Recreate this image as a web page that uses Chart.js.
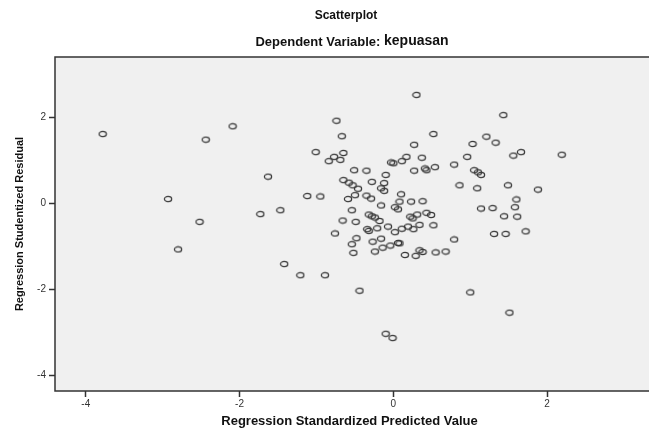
<!DOCTYPE html>
<html>
<head>
<meta charset="utf-8">
<script src="https://cdn.jsdelivr.net/npm/chart.js@4.4.1/dist/chart.umd.min.js"></script>
<style>
    html, body { margin: 0; padding: 0; background: #ffffff; overflow: hidden; }
    #wrap { width: 649px; height: 430px; }
</style>
</head>
<body>
<div id="wrap"><canvas id="scatter" width="649" height="430"></canvas></div>
<script>
const titleText = 'Scatterplot';
const subtitleLead = 'Dependent Variable: ';
const subtitleVar = 'kepuasan';
const xTitle = 'Regression Standardized Predicted Value';
const yTitle = 'Regression Studentized Residual';

const xTicks = [-4, -2, 0, 2];
const yTicks = [-4, -2, 0, 2];

// standardized predicted value (x) and studentized residual (y)
const predicted = [
    -3.78, -2.09, -2.44, -1.63, -2.93, -2.52, -2.80, -1.73, -1.47, -1.12,
    -0.95, -1.01, -0.84, -0.77, -0.74, -0.76, -1.42, -1.21, -0.89, 0.30,
    1.43, -0.67, 0.52, 0.27, 1.03, 1.21, 1.33, 1.56, -0.69, -0.65,
    -0.03, 0.00, 0.11, 0.17, 0.37, 0.27, 0.41, 0.43, 0.54, 0.79,
    0.96, 1.05, 1.10, 1.14, 0.86, 1.09, 1.49, -0.51, -0.35, -0.10,
    -0.65, -0.58, -0.53, -0.46, -0.28, -0.12, -0.16, -0.12, -0.50, -0.59,
    -0.35, -0.29, 0.10, 0.08, 0.23, 0.38, -0.16, 0.02, 0.06, -0.54,
    0.43, 0.49, 0.22, 0.25, 0.31, -0.32, -0.28, -0.24, -0.18, -0.66,
    -0.49, -0.34, -0.32, -0.21, -0.07, 0.02, 0.11, 0.19, 0.26, 0.34,
    0.52, -0.48, -0.54, -0.52, -0.27, -0.16, -0.24, -0.14, -0.04, 0.06,
    0.08, 0.15, 0.29, 0.34, 0.38, 0.55, 0.68, 0.79, 1.14, 1.29,
    1.44, 1.31, 1.46, -0.44, 1.00, 1.51, -0.10, -0.01, 1.66, 2.19,
    1.88, 1.60, 1.58, 1.61, 1.72
];
const residual = [
    1.61, 1.79, 1.48, 0.62, 0.10, -0.43, -1.07, -0.25, -0.16, 0.17,
    0.16, 1.19, 0.98, 1.08, 1.92, -0.70, -1.41, -1.67, -1.67, 2.52,
    2.05, 1.56, 1.61, 1.36, 1.38, 1.55, 1.41, 1.11, 1.01, 1.17,
    0.95, 0.93, 0.98, 1.08, 1.06, 0.76, 0.81, 0.77, 0.84, 0.90,
    1.08, 0.77, 0.72, 0.66, 0.42, 0.35, 0.42, 0.77, 0.76, 0.66,
    0.54, 0.48, 0.42, 0.34, 0.50, 0.47, 0.35, 0.29, 0.19, 0.10,
    0.18, 0.11, 0.21, 0.04, 0.04, 0.05, -0.05, -0.09, -0.14, -0.16,
    -0.22, -0.27, -0.31, -0.35, -0.26, -0.26, -0.30, -0.33, -0.41, -0.40,
    -0.43, -0.60, -0.64, -0.58, -0.54, -0.67, -0.59, -0.54, -0.60, -0.50,
    -0.51, -0.81, -0.95, -1.15, -0.89, -0.82, -1.12, -1.03, -0.98, -0.92,
    -0.93, -1.20, -1.22, -1.09, -1.13, -1.14, -1.12, -0.84, -0.12, -0.11,
    -0.30, -0.71, -0.71, -2.03, -2.07, -2.54, -3.03, -3.13, 1.19, 1.13,
    0.32, 0.09, -0.09, -0.31, -0.65
];

const FONT = '"Liberation Sans", Arial, sans-serif';

// small hollow ellipse like the SPSS marker
function makeMarker () {
    const c = document.createElement('canvas');
    c.width = 10;
    c.height = 8;
    const g = c.getContext('2d');
    g.strokeStyle = '#3a3a3a';
    g.lineWidth = 1.3;
    g.beginPath();
    g.ellipse(5, 4, 3.6, 2.6, 0, 0, Math.PI * 2);
    g.stroke();
    return c;
}

const framePlugin = {
    id: 'frame',
    beforeDraw (chart) {
        const { ctx, chartArea: a } = chart;
        ctx.save();
        ctx.fillStyle = '#f0f0f0';
        ctx.fillRect(a.left, a.top, chart.width - a.left, a.bottom - a.top);
        ctx.restore();
    },
    afterDraw (chart) {
        const { ctx, chartArea: a } = chart;
        ctx.save();
        // frame runs off the right edge of the picture, like the cropped original
        ctx.strokeStyle = '#333333';
        ctx.lineWidth = 1.5;
        ctx.beginPath();
        ctx.moveTo(chart.width + 2, a.top);
        ctx.lineTo(a.left, a.top);
        ctx.lineTo(a.left, a.bottom);
        ctx.lineTo(chart.width + 2, a.bottom);
        ctx.stroke();

        ctx.fillStyle = '#111111';
        ctx.textBaseline = 'middle';
        ctx.textAlign = 'center';
        ctx.font = 'bold 12px ' + FONT;
        ctx.fillText(titleText, 346, 16);

        // subtitle: variable name is set a little larger
        const leadFont = 'bold 13px ' + FONT;
        const varFont = 'bold 14px ' + FONT;
        ctx.font = leadFont;
        const w1 = ctx.measureText(subtitleLead).width;
        ctx.font = varFont;
        const w2 = ctx.measureText(subtitleVar).width;
        const x0 = 352 - (w1 + w2) / 2;
        ctx.textAlign = 'left';
        ctx.font = leadFont;
        ctx.fillText(subtitleLead, x0, 42);
        ctx.font = varFont;
        ctx.fillText(subtitleVar, x0 + w1, 41.5);
        ctx.restore();
    }
};

const points = predicted.map((x, i) => ({ x: x, y: residual[i] }));

new Chart(document.getElementById('scatter').getContext('2d'), {
    type: 'scatter',
    data: {
        datasets: [{
            label: 'kepuasan',
            data: points,
            pointStyle: makeMarker(),
            pointRadius: 4,
            pointHoverRadius: 4
        }]
    },
    options: {
        responsive: false,
        animation: false,
        layout: {
            padding: { top: 57, right: -5, left: 0, bottom: 0 }
        },
        plugins: {
            legend: { display: false },
            tooltip: { enabled: false }
        },
        scales: {
            x: {
                type: 'linear',
                min: -4.40,
                max: 3.26,
                afterBuildTicks: scale => { scale.ticks = xTicks.map(v => ({ value: v })); },
                afterFit: scale => { scale.height = 39; },
                grid: {
                    drawOnChartArea: false,
                    tickLength: 6,
                    tickColor: '#333333',
                    tickWidth: 1.5
                },
                border: { display: false },
                ticks: {
                    color: '#333333',
                    padding: 1,
                    maxRotation: 0,
                    font: { family: FONT, size: 10 }
                },
                title: {
                    display: true,
                    text: xTitle,
                    color: '#111111',
                    padding: { top: 0, bottom: 1 },
                    font: { family: FONT, size: 13, weight: 'bold' }
                }
            },
            y: {
                type: 'linear',
                min: -4.36,
                max: 3.40,
                afterBuildTicks: scale => { scale.ticks = yTicks.map(v => ({ value: v })); },
                afterFit: scale => { scale.width = 55; },
                grid: {
                    drawOnChartArea: false,
                    tickLength: 6,
                    tickColor: '#333333',
                    tickWidth: 1.5
                },
                border: { display: false },
                ticks: {
                    color: '#333333',
                    padding: 3,
                    font: { family: FONT, size: 10 }
                },
                title: {
                    display: true,
                    text: yTitle,
                    color: '#111111',
                    padding: { top: 13, bottom: 0 },
                    font: { family: FONT, size: 11, weight: 'bold' }
                }
            }
        }
    },
    plugins: [framePlugin]
});
</script>
</body>
</html>
